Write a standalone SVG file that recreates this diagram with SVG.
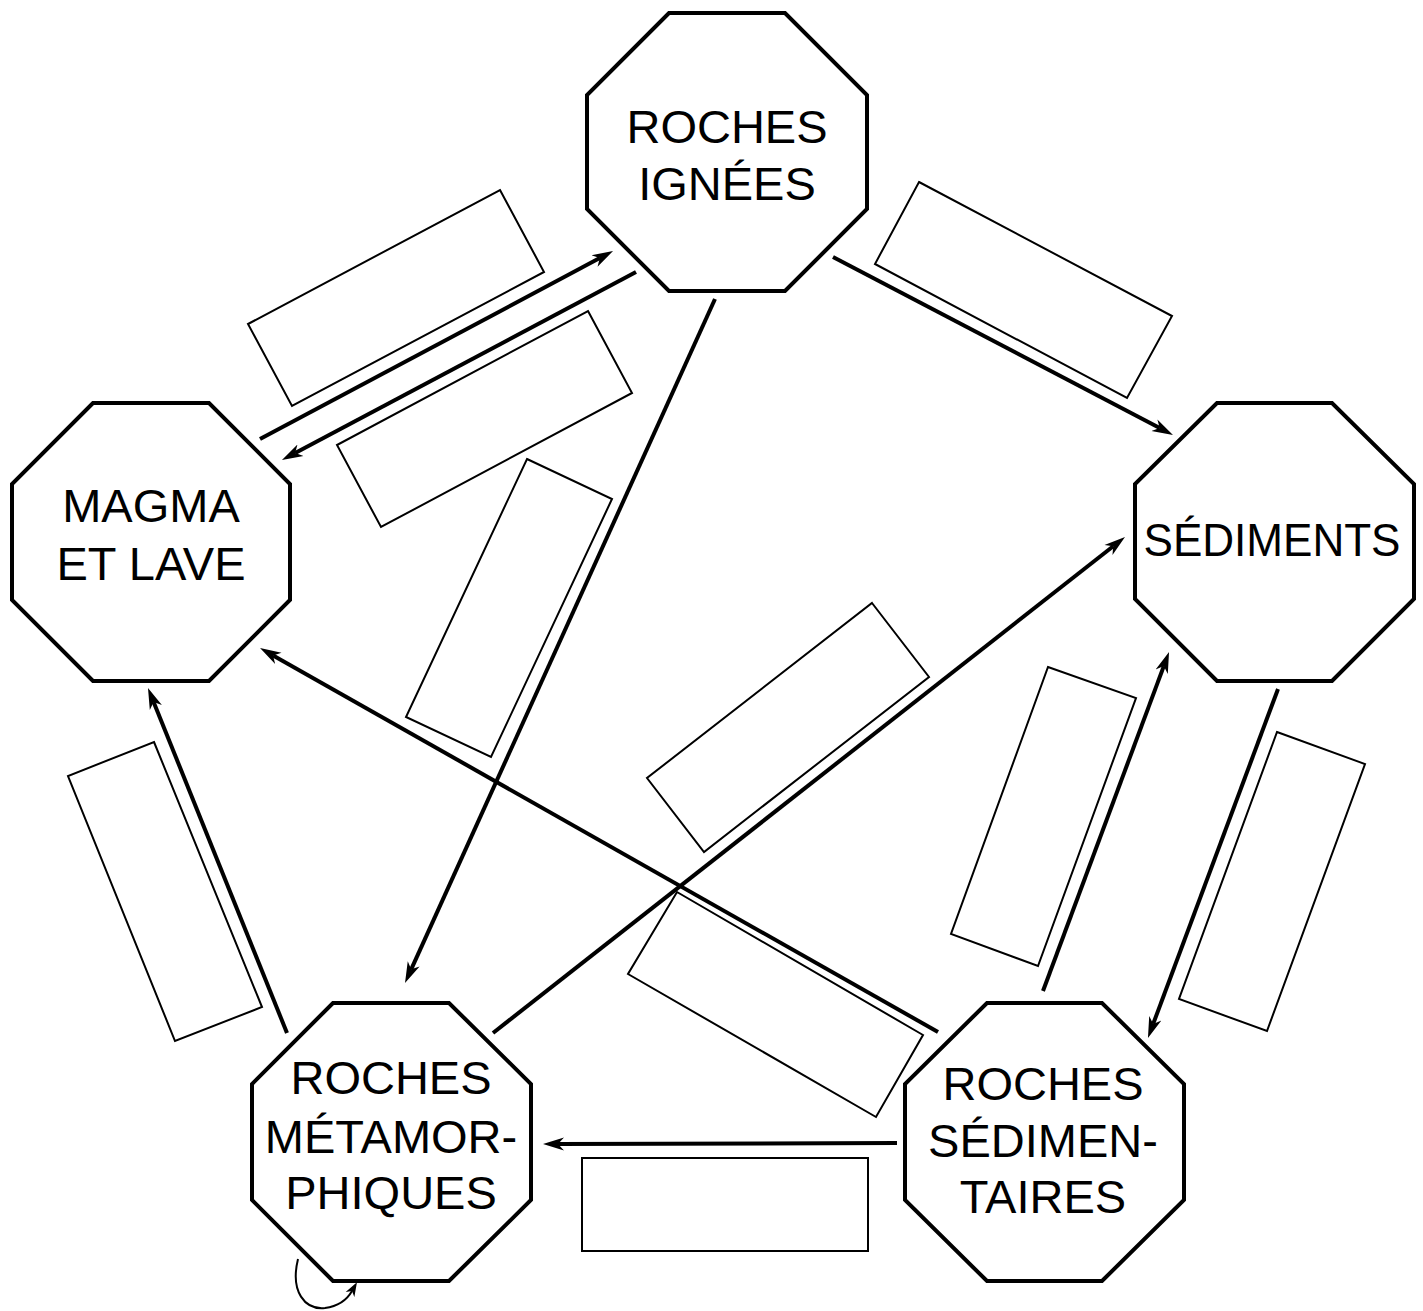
<svg xmlns="http://www.w3.org/2000/svg" width="1423" height="1311" viewBox="0 0 1423 1311">
  <style>
    .node { fill: #ffffff; stroke: #000000; stroke-width: 4; stroke-linejoin: miter; }
    .label { font-family: "Liberation Sans", Arial, sans-serif; font-size: 47px; fill: #000000; text-anchor: middle; }
    .blank { fill: none; stroke: #000000; stroke-width: 2; }
    .link { fill: none; stroke: #000000; stroke-width: 4; }
    .loop { fill: none; stroke: #000000; stroke-width: 2; }
  </style>
  <defs>
    <marker id="head" markerUnits="userSpaceOnUse" markerWidth="24" markerHeight="16" viewBox="0 -8 24 16" refX="6" refY="0" orient="auto">
      <path d="M0,-6.5 L21,0 L0,6.5 L6,0 Z" fill="#000000"/>
    </marker>
    <marker id="headSmall" markerUnits="userSpaceOnUse" markerWidth="16" markerHeight="12" viewBox="0 -6 16 12" refX="4" refY="0" orient="auto">
      <path d="M0,-5 L14,0 L0,5 L4,0 Z" fill="#000000"/>
    </marker>
  </defs>

  <rect width="1423" height="1311" fill="#ffffff"/>

  <!-- empty answer boxes beside each process arrow -->
  <g id="blanks">
    <polygon class="blank" points="500,190 544,272 292,406 248,324"/>
    <polygon class="blank" points="588,311 632,393 381,527 337,445"/>
    <polygon class="blank" points="527,459 612,499 491,757 406,717"/>
    <polygon class="blank" points="919,182 1172,316 1127,398 875,264"/>
    <polygon class="blank" points="154,742 262,1007 175,1041 68,776"/>
    <polygon class="blank" points="872,603 929,677 704,852 647,778"/>
    <polygon class="blank" points="1048,667 1136,698 1038,966 951,934"/>
    <polygon class="blank" points="1277,732 1365,764 1267,1031 1179,999"/>
    <polygon class="blank" points="677,892 923,1035 876,1117 628,974"/>
    <rect class="blank" x="582" y="1158" width="286" height="93"/>
  </g>

  <!-- process arrows between rock stages -->
  <g id="connectors">
    <line class="link" x1="260" y1="439" x2="599.8" y2="258.1" marker-end="url(#head)"/>
    <line class="link" x1="636" y1="272" x2="295.2" y2="453" marker-end="url(#head)"/>
    <line class="link" x1="833" y1="257" x2="1159.7" y2="428" marker-end="url(#head)"/>
    <line class="link" x1="715" y1="299" x2="411.2" y2="969.3" marker-end="url(#head)"/>
    <line class="link" x1="493" y1="1033" x2="1113.2" y2="546.3" marker-end="url(#head)"/>
    <line class="link" x1="938" y1="1032" x2="273.1" y2="655.4" marker-end="url(#head)"/>
    <line class="link" x1="287" y1="1033" x2="153.6" y2="701.9" marker-end="url(#head)"/>
    <line class="link" x1="1043" y1="991" x2="1163.8" y2="666.1" marker-end="url(#head)"/>
    <line class="link" x1="1278" y1="689" x2="1153.2" y2="1023.9" marker-end="url(#head)"/>
    <line class="link" x1="897" y1="1143" x2="558" y2="1144" marker-end="url(#head)"/>
    <path class="loop" d="M298,1259 C290,1292 305,1310 325,1308 C340,1306 348,1298 352,1291" marker-end="url(#headSmall)"/>
  </g>

  <g id="roches-ignees">
    <polygon class="node" points="669,13 785,13 867,95 867,209 785,291 669,291 587,209 587,95"/>
    <text class="label" x="727" y="143">ROCHES</text>
    <text class="label" x="727" y="200">IGNÉES</text>
  </g>

  <g id="magma-et-lave">
    <polygon class="node" points="93,403 209,403 290,484 290,600 209,681 93,681 12,600 12,484"/>
    <text class="label" x="151" y="522">MAGMA</text>
    <text class="label" x="151" y="580">ET LAVE</text>
  </g>

  <g id="sediments">
    <polygon class="node" points="1217,403 1332,403 1414,484 1414,599 1332,681 1217,681 1135,599 1135,484"/>
    <text class="label" x="1272" y="556" textLength="257" lengthAdjust="spacingAndGlyphs">SÉDIMENTS</text>
  </g>

  <g id="roches-metamorphiques">
    <polygon class="node" points="333,1003 449,1003 531,1084 531,1200 449,1281 333,1281 252,1200 252,1084"/>
    <text class="label" x="391" y="1094">ROCHES</text>
    <text class="label" x="391" y="1153">MÉTAMOR-</text>
    <text class="label" x="391" y="1209">PHIQUES</text>
  </g>

  <g id="roches-sedimentaires">
    <polygon class="node" points="987,1003 1102,1003 1184,1084 1184,1200 1102,1281 987,1281 905,1200 905,1084"/>
    <text class="label" x="1043" y="1100">ROCHES</text>
    <text class="label" x="1043" y="1157">SÉDIMEN-</text>
    <text class="label" x="1043" y="1213">TAIRES</text>
  </g>
</svg>
